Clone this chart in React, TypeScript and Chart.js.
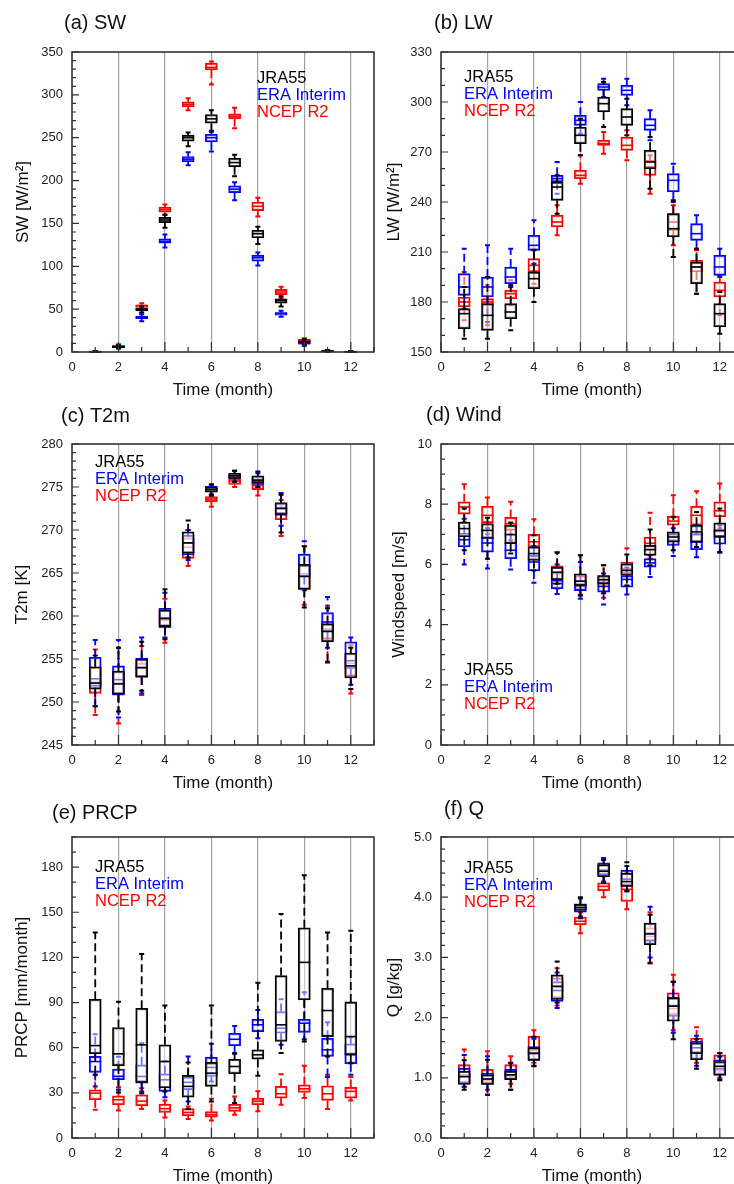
import React, { useEffect, useRef } from 'react';
import { Chart, registerables } from 'chart.js';

Chart.register(...registerables);

const FONT = '"Liberation Sans", Arial, Helvetica, sans-serif';

// Months on the x axis
const MONTHS = [1, 2, 3, 4, 5, 6, 7, 8, 9, 10, 11, 12];
const SERIES_NAMES = ['JRA55', 'ERA Interim', 'NCEP R2'];
const SERIES_COLORS = ['#000000', '#0000ff', '#ff0000'];

// Each entry: [min, q1, median, q3, max]
// (a) SW [W/m2]
const swJRA = [[0, 0, 0.3, 0.6, 1], [4, 5, 6, 7, 8], [46, 48, 50, 51, 53], [145, 151, 154, 157, 160], [240, 246, 250, 253, 256], [257, 267, 272, 277, 282], [205, 216, 221, 226, 230], [126, 133, 138, 142, 146], [53, 57, 60, 62, 65], [9, 11, 12, 13, 15], [0, 0.5, 1, 1.5, 2], [0, 0, 0.3, 0.5, 1]];
const swERA = [[0, 0, 0.3, 0.6, 1], [4, 5, 5.5, 6.5, 7.5], [36, 39, 40, 42, 44], [122, 127, 129, 132, 137], [218, 222, 225, 228, 233], [234, 245, 250, 254, 258], [177, 186, 190, 194, 198], [101, 106, 110, 113, 116], [41, 43, 45, 46, 48], [7, 9, 10, 11, 12], [0, 0.5, 1, 1.5, 2], [0, 0, 0.3, 0.5, 1]];
const swNCEP = [[0, 0, 0.3, 0.6, 1], [5, 6, 7, 8, 9], [50, 52, 54, 55, 57], [160, 163, 166, 169, 172], [282, 286, 289, 292, 296], [312, 329, 332, 337, 339], [261, 272, 275, 278, 285], [158, 165, 170, 175, 180], [63, 67, 70, 73, 76], [10, 12, 14, 15, 16], [0, 0.5, 1, 1.5, 2], [0, 0, 0.3, 0.5, 1]];

// (b) LW [W/m2]
const lwJRA = [[158, 164, 173, 176, 189], [158, 163, 172, 179, 195], [163, 170, 174, 179, 190], [180, 188, 194, 198, 211], [233, 241, 249, 252, 256], [268, 275, 280, 285, 290], [285, 294, 299, 303, 312], [280, 286, 291, 296, 302], [248, 260, 264, 271, 279], [207, 219, 224, 233, 241], [185, 191, 201, 204, 212], [161, 165, 173, 179, 186]];
const lwERA = [[176, 184, 189, 197, 212], [168, 183, 189, 195, 214], [189, 191, 195, 201, 212], [203, 211, 214, 220, 229], [245, 252, 254, 256, 264], [281, 286, 289, 292, 300], [303, 307, 309, 311, 314], [298, 304, 307, 310, 314], [277, 283, 286, 290, 295], [240, 246, 253, 257, 263], [212, 217, 221, 227, 232], [195, 196, 201, 208, 212]];
const lwNCEP = [[169, 177, 180, 183, 198], [166, 178, 180, 182, 190], [178, 182, 185, 187, 193], [191, 198, 202, 206, 212], [220, 225, 228, 232, 238], [251, 254, 256, 259, 268], [269, 274, 275, 277, 282], [265, 271, 274, 279, 283], [245, 256, 261, 265, 268], [214, 223, 228, 233, 238], [185, 198, 201, 205, 211], [172, 183, 187, 192, 196]];

// (c) T2m [K]
const t2JRA = [[249.5, 251.5, 252.2, 254.1, 255.4], [248.9, 250.9, 252.1, 253.6, 256.3], [251.3, 252.9, 254, 255, 257], [257.3, 258.8, 259.7, 260.7, 263.1], [266.8, 267.3, 268.5, 269.8, 271.1], [274, 274.4, 274.7, 275, 275.3], [275.6, 276, 276.3, 276.6, 276.9], [275, 275.5, 275.8, 276.3, 276.8], [269.7, 271.8, 272.5, 273.2, 274.1], [261, 263.1, 264.6, 266, 268.1], [254.6, 257, 258.2, 259.1, 260.9], [251.5, 252.8, 254.2, 255.7, 256.3]];
const t2ERA = [[249.5, 251.8, 252.7, 255.2, 257.2], [248.2, 250.8, 252.6, 254.2, 257.2], [251, 252.9, 254, 255.1, 257.5], [257.5, 258.7, 259.8, 260.9, 262.7], [266.5, 267.1, 268.5, 269.4, 270], [274, 274.5, 274.8, 275.1, 275.3], [275.6, 276, 276.2, 276.5, 276.9], [275, 275.3, 275.8, 276.2, 276.6], [270.5, 271.7, 272.6, 273.1, 274.3], [263, 264.6, 265.8, 267.2, 268.7], [256.3, 258.2, 259.3, 260.4, 262.2], [252, 253.9, 254.8, 257, 257.5]];
const t2NCEP = [[248.5, 251, 252.3, 254.1, 256.1], [247.5, 250.9, 252.2, 253.5, 256.3], [250.8, 252.9, 253.9, 254.5, 256.5], [256.9, 258.6, 259.5, 260.7, 262], [265.8, 266.7, 268, 269.1, 270], [272.7, 273.3, 273.6, 273.9, 274.2], [275, 275.3, 275.7, 276, 276.2], [274, 274.7, 275.2, 275.7, 276.2], [269.3, 271.2, 272, 272.6, 273.5], [261.3, 263.1, 264.9, 266, 268.1], [254.7, 257.3, 258.5, 259.2, 261.2], [251, 253, 254.5, 255.6, 256.6]];

// (d) Windspeed [m/s]
const wsJRA = [[6.47, 6.91, 7.19, 7.41, 7.86], [6.19, 6.86, 7.13, 7.36, 7.55], [6.36, 6.69, 6.99, 7.3, 7.39], [5.8, 6.13, 6.36, 6.58, 6.97], [5.36, 5.49, 5.74, 5.91, 6.39], [4.97, 5.3, 5.44, 5.69, 6.3], [5.04, 5.36, 5.49, 5.63, 5.97], [5.3, 5.63, 5.8, 6.02, 6.33], [5.97, 6.3, 6.49, 6.63, 7.16], [6.47, 6.74, 6.91, 7.08, 7.58], [6.58, 6.74, 7.08, 7.3, 7.74], [6.41, 6.91, 7.13, 7.38, 7.86]];
const wsERA = [[6.0, 6.58, 6.82, 7.04, 7.52], [5.86, 6.41, 6.71, 6.91, 7.2], [5.83, 6.19, 6.47, 6.74, 7.0], [5.39, 5.78, 6.08, 6.3, 6.6], [5.02, 5.19, 5.36, 5.49, 6.0], [4.86, 5.13, 5.3, 5.47, 6.08], [4.67, 5.08, 5.27, 5.41, 5.7], [5.0, 5.24, 5.5, 5.63, 5.9], [5.58, 5.91, 6.05, 6.19, 6.3], [6.28, 6.63, 6.8, 7.02, 7.2], [6.24, 6.49, 6.74, 7.02, 7.3], [6.39, 6.67, 6.91, 7.13, 7.3]];
const wsNCEP = [[7.4, 7.67, 7.91, 8.08, 8.66], [7.0, 7.38, 7.63, 7.93, 8.22], [6.8, 7.13, 7.35, 7.56, 8.08], [6.2, 6.58, 6.75, 7.0, 7.5], [5.2, 5.4, 5.7, 5.95, 6.41], [5.0, 5.24, 5.45, 5.63, 6.3], [4.89, 5.33, 5.5, 5.63, 5.97], [5.3, 5.69, 5.85, 6.08, 6.54], [6.2, 6.47, 6.7, 6.91, 7.72], [6.9, 7.3, 7.44, 7.6, 8.3], [7.0, 7.3, 7.63, 7.93, 8.43], [7.2, 7.58, 7.78, 8.08, 8.69]];

// (e) PRCP [mm/month]
const prJRA = [[42, 55.9, 61.4, 92.2, 136.6], [30.3, 48, 55.9, 73.4, 90.6], [29.8, 36.9, 61.9, 86.2, 122.2], [30.9, 33.2, 50.8, 61.9, 88], [19.2, 27.2, 34.3, 41.6, 50.2], [24.3, 34.3, 43.1, 50.2, 88], [23.2, 42.7, 47.5, 52.4, 56], [41.3, 52.4, 55.3, 58.6, 103.2], [56.4, 64.1, 75.2, 107.9, 148.8], [64.1, 91.7, 116.7, 139.7, 174.6], [54.2, 67.4, 84.7, 99.5, 136.6], [49.7, 55.3, 67.4, 90.4, 137.7]];
const prERA = [[34.3, 43.5, 50.8, 54.2, 69], [32, 38.7, 41, 45.8, 54], [30.9, 36.5, 40.9, 48.6, 63], [27, 30.9, 38.7, 42.7, 51], [24.3, 32, 37, 40.5, 54.2], [37.6, 40.9, 46.9, 53.7, 62.6], [56.4, 61.2, 65.6, 69.6, 74.5], [66.3, 70.7, 75.2, 78.9, 85.1], [62, 69.6, 73, 84, 92.2], [65.6, 70.1, 76.3, 78.9, 96.8], [40.5, 54.2, 58.6, 66.3, 76.9], [42, 49.3, 55.3, 62.6, 67]];
const prNCEP = [[18.8, 25.4, 29.8, 32, 42], [18.3, 22.1, 25.4, 28, 33.8], [19.2, 21.4, 24.5, 28.7, 33], [13.7, 17, 19.5, 22.5, 25], [12.6, 14.8, 17, 19.5, 21], [11.7, 13.9, 15.5, 17.5, 26], [15.5, 17.7, 20, 22.5, 27.6], [17.7, 22.1, 24.5, 26.5, 31], [22.1, 26.5, 29.4, 34.3, 42.4], [26.5, 30.3, 32.7, 35.4, 48], [19.2, 25, 29.4, 34.7, 42], [25, 26.5, 31, 33.6, 40.5]];

// (f) Q [g/kg]
const qJRA = [[0.8, 0.89, 1.02, 1.11, 1.29], [0.72, 0.89, 0.98, 1.05, 1.3], [0.8, 0.97, 1.05, 1.11, 1.25], [1.19, 1.29, 1.41, 1.5, 1.68], [2.25, 2.3, 2.52, 2.71, 2.93], [3.65, 3.78, 3.83, 3.88, 4.0], [4.24, 4.34, 4.43, 4.54, 4.62], [4.1, 4.18, 4.26, 4.4, 4.58], [2.91, 3.21, 3.39, 3.57, 3.71], [1.64, 1.94, 2.19, 2.33, 2.59], [1.15, 1.3, 1.41, 1.58, 1.64], [0.96, 1.04, 1.19, 1.27, 1.41]];
const qERA = [[0.85, 0.91, 1.02, 1.16, 1.38], [0.72, 0.89, 0.98, 1.08, 1.36], [0.8, 0.97, 1.05, 1.14, 1.24], [1.2, 1.29, 1.4, 1.52, 1.65], [2.16, 2.27, 2.45, 2.6, 2.75], [3.68, 3.75, 3.82, 3.89, 3.98], [4.26, 4.37, 4.45, 4.57, 4.65], [4.1, 4.18, 4.3, 4.45, 4.52], [3.0, 3.27, 3.4, 3.57, 3.84], [1.75, 2.02, 2.2, 2.34, 2.6], [1.2, 1.41, 1.5, 1.61, 1.7], [0.97, 1.05, 1.15, 1.3, 1.35]];
const qNCEP = [[0.85, 0.9, 1.05, 1.22, 1.47], [0.8, 0.94, 1.05, 1.14, 1.44], [0.9, 1.02, 1.1, 1.22, 1.36], [1.25, 1.38, 1.45, 1.69, 1.79], [2.2, 2.33, 2.5, 2.66, 2.82], [3.4, 3.54, 3.6, 3.67, 3.75], [4.0, 4.11, 4.18, 4.24, 4.35], [3.8, 3.93, 4.13, 4.24, 4.4], [2.9, 3.27, 3.35, 3.49, 3.75], [1.79, 2.05, 2.15, 2.41, 2.71], [1.25, 1.41, 1.5, 1.66, 1.84], [1.0, 1.11, 1.2, 1.38, 1.41]];

type Panel = {
  id: string;
  title: string;
  yTitle: string;
  yMin: number;
  yMax: number;
  yStep: number;
  yMinor: number;
  dec: number;
  series: number[][][];
  canvas: { left: number; top: number; width: number; height: number };
  area: { l: number; t: number; r: number; b: number };
  titlePos: [number, number];
  legendPos: [number, number];
  yTitleX: number;
};

const LEFT_CANVAS = { left: 0, width: 380 };
const RIGHT_CANVAS = { left: 367, width: 390 };

const PANELS: Panel[] = [
  { id: 'a', title: '(a) SW', yTitle: 'SW [W/m²]', yMin: 0, yMax: 350, yStep: 50, yMinor: 10, dec: 0, series: [swJRA, swERA, swNCEP],
    canvas: { ...LEFT_CANVAS, top: 0, height: 400 }, area: { l: 72, t: 52, r: 374, b: 352 }, titlePos: [64, 23], legendPos: [257, 78], yTitleX: 23 },
  { id: 'b', title: '(b) LW', yTitle: 'LW [W/m²]', yMin: 150, yMax: 330, yStep: 30, yMinor: 10, dec: 0, series: [lwJRA, lwERA, lwNCEP],
    canvas: { ...RIGHT_CANVAS, top: 0, height: 400 }, area: { l: 74, t: 52, r: 376, b: 352 }, titlePos: [434, 23], legendPos: [464, 77], yTitleX: 394 },
  { id: 'c', title: '(c) T2m', yTitle: 'T2m [K]', yMin: 245, yMax: 280, yStep: 5, yMinor: 1, dec: 0, series: [t2JRA, t2ERA, t2NCEP],
    canvas: { ...LEFT_CANVAS, top: 392, height: 400 }, area: { l: 72, t: 52, r: 374, b: 353 }, titlePos: [61, 416], legendPos: [95, 462], yTitleX: 22 },
  { id: 'd', title: '(d) Wind', yTitle: 'Windspeed [m/s]', yMin: 0, yMax: 10, yStep: 2, yMinor: 0.5, dec: 0, series: [wsJRA, wsERA, wsNCEP],
    canvas: { ...RIGHT_CANVAS, top: 392, height: 400 }, area: { l: 74, t: 52, r: 376, b: 353 }, titlePos: [426, 415], legendPos: [464, 670], yTitleX: 399 },
  { id: 'e', title: '(e) PRCP', yTitle: 'PRCP [mm/month]', yMin: 0, yMax: 200, yStep: 30, yMinor: 10, dec: 0, series: [prJRA, prERA, prNCEP],
    canvas: { ...LEFT_CANVAS, top: 785, height: 399 }, area: { l: 72, t: 52, r: 374, b: 353 }, titlePos: [52, 813], legendPos: [95, 867], yTitleX: 22 },
  { id: 'f', title: '(f) Q', yTitle: 'Q [g/kg]', yMin: 0, yMax: 5, yStep: 1, yMinor: 0.2, dec: 1, series: [qJRA, qERA, qNCEP],
    canvas: { ...RIGHT_CANVAS, top: 785, height: 399 }, area: { l: 74, t: 52, r: 376, b: 353 }, titlePos: [444, 809], legendPos: [464, 868], yTitleX: 394 },
];

const BOX_W = 12;

function makePlugin(p: Panel) {
  return {
    id: 'boxdeco_' + p.id,
    afterDatasetDraw(chart: any, args: any) {
      const ds = chart.data.datasets[args.index];
      const stats: number[][] = ds.stats;
      const xs = chart.scales.x;
      const ys = chart.scales.y;
      const ctx = chart.ctx as CanvasRenderingContext2D;
      const half = BOX_W / 2;
      ctx.save();
      ctx.strokeStyle = ds.borderColor;
      stats.forEach((s, i) => {
        const px = xs.getPixelForValue(MONTHS[i]);
        const mn = ys.getPixelForValue(s[0]);
        const q1 = ys.getPixelForValue(s[1]);
        const md = ys.getPixelForValue(s[2]);
        const q3 = ys.getPixelForValue(s[3]);
        const mx = ys.getPixelForValue(s[4]);
        ctx.setLineDash([]);
        ctx.lineWidth = 1.6;
        ctx.beginPath();
        ctx.moveTo(px - half, md);
        ctx.lineTo(px + half, md);
        ctx.stroke();
        ctx.lineWidth = 1.8;
        ctx.setLineDash([8, 4]);
        ctx.beginPath();
        ctx.moveTo(px, q3);
        ctx.lineTo(px, mx);
        ctx.moveTo(px, q1);
        ctx.lineTo(px, mn);
        ctx.stroke();
        ctx.setLineDash([]);
        ctx.lineWidth = 2;
        ctx.beginPath();
        ctx.moveTo(px - 2.5, mx);
        ctx.lineTo(px + 2.5, mx);
        ctx.moveTo(px - 2.5, mn);
        ctx.lineTo(px + 2.5, mn);
        ctx.stroke();
      });
      ctx.restore();
    },
    afterDraw(chart: any) {
      const ctx = chart.ctx as CanvasRenderingContext2D;
      const a = chart.chartArea;
      const xs = chart.scales.x;
      const ys = chart.scales.y;
      const ox = p.canvas.left;
      const oy = p.canvas.top;
      ctx.save();
      // ticks (inward)
      ctx.strokeStyle = '#333';
      ctx.lineWidth = 1.2;
      ctx.beginPath();
      const n = Math.round((p.yMax - p.yMin) / p.yMinor);
      for (let k = 0; k <= n; k++) {
        const v = p.yMin + k * p.yMinor;
        const r = v / p.yStep;
        const major = Math.abs(r - Math.round(r)) < 1e-6;
        const py = ys.getPixelForValue(v);
        ctx.moveTo(a.left, py);
        ctx.lineTo(a.left + (major ? 7 : 4), py);
      }
      for (let m = 0; m <= 13; m++) {
        const px = xs.getPixelForValue(m);
        ctx.moveTo(px, a.bottom);
        ctx.lineTo(px, a.bottom - (m % 2 === 0 ? 10 : 5));
      }
      ctx.stroke();
      // frame
      ctx.strokeStyle = '#333';
      ctx.lineWidth = 1.6;
      ctx.strokeRect(a.left, a.top, a.right - a.left, a.bottom - a.top);
      // panel title
      ctx.fillStyle = '#111';
      ctx.textBaseline = 'middle';
      ctx.textAlign = 'left';
      ctx.font = `20px ${FONT}`;
      ctx.fillText(p.title, p.titlePos[0] - ox, p.titlePos[1] - oy);
      // legend text
      ctx.font = `16.5px ${FONT}`;
      SERIES_NAMES.forEach((name, i) => {
        ctx.fillStyle = SERIES_COLORS[i];
        ctx.fillText(name, p.legendPos[0] - ox, p.legendPos[1] - oy + i * 17);
      });
      // axis titles
      ctx.fillStyle = '#111';
      ctx.font = `17px ${FONT}`;
      ctx.textAlign = 'center';
      ctx.fillText('Time (month)', (a.left + a.right) / 2, a.bottom + 38);
      ctx.translate(p.yTitleX - ox, (a.top + a.bottom) / 2);
      ctx.rotate(-Math.PI / 2);
      ctx.fillText(p.yTitle, 0, 0);
      ctx.restore();
    },
  };
}

function buildConfig(p: Panel): any {
  const datasets = p.series.map((stats, si) => ({
    type: 'bar',
    label: SERIES_NAMES[si],
    data: stats.map((s, i) => ({ x: MONTHS[i], y: [s[1], s[3]] })),
    stats,
    borderColor: SERIES_COLORS[si],
    backgroundColor: 'rgba(255,255,255,0.45)',
    borderWidth: 1.6,
    borderSkipped: false,
    barThickness: BOX_W,
    grouped: false,
  }));
  return {
    type: 'bar',
    data: { datasets },
    options: {
      responsive: false,
      animation: false,
      events: [],
      layout: { padding: { left: 0, top: p.area.t, right: p.canvas.width - p.area.r, bottom: 0 } },
      plugins: { legend: { display: false }, tooltip: { enabled: false }, title: { display: false } },
      scales: {
        x: {
          type: 'linear',
          min: 0,
          max: 13,
          offset: false,
          afterFit: (scale: any) => { scale.height = p.canvas.height - p.area.b; },
          border: { display: false },
          grid: {
            offset: false,
            drawTicks: false,
            lineWidth: 1.2,
            color: (c: any) => (c.tick && c.tick.value > 0 ? 'rgba(130,130,130,0.75)' : 'rgba(0,0,0,0)'),
          },
          ticks: {
            stepSize: 2,
            includeBounds: false,
            padding: 8,
            color: '#222',
            font: { size: 13, family: FONT },
            maxRotation: 0,
            autoSkip: false,
            callback: (v: any) => String(v),
          },
        },
        y: {
          type: 'linear',
          min: p.yMin,
          max: p.yMax,
          afterFit: (scale: any) => { scale.width = p.area.l; },
          border: { display: false },
          grid: { display: false, drawTicks: false },
          ticks: {
            stepSize: p.yStep,
            includeBounds: false,
            padding: 9,
            color: '#222',
            font: { size: 13, family: FONT },
            autoSkip: false,
            callback: (v: any) => Number(v).toFixed(p.dec),
          },
        },
      },
    },
    plugins: [makePlugin(p)],
  };
}

function PanelChart({ p }: { p: Panel }) {
  const ref = useRef<HTMLCanvasElement | null>(null);
  useEffect(() => {
    if (!ref.current) return;
    const chart = new Chart(ref.current, buildConfig(p));
    return () => chart.destroy();
  }, [p]);
  return (
    <canvas
      ref={ref}
      width={p.canvas.width}
      height={p.canvas.height}
      style={{ position: 'absolute', left: p.canvas.left, top: p.canvas.top, width: p.canvas.width, height: p.canvas.height }}
    />
  );
}

export default function App() {
  return (
    <div style={{ position: 'absolute', left: 0, top: 0, width: 734, height: 1184, overflow: 'hidden', background: '#fff' }}>
      {PANELS.map((p) => (
        <PanelChart key={p.id} p={p} />
      ))}
    </div>
  );
}
